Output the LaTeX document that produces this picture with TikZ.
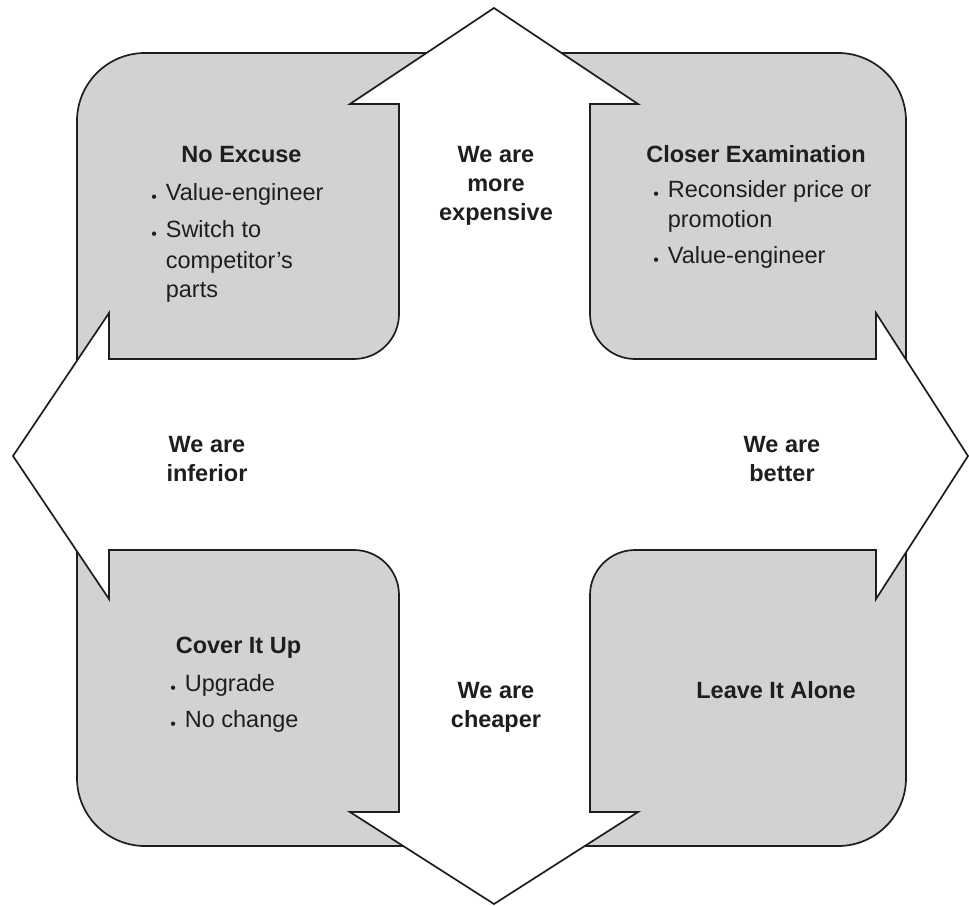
\documentclass[tikz,border=0pt]{standalone}
\usepackage{fontspec}
\setmainfont{Liberation Sans}
\definecolor{boxgray}{RGB}{209,210,212}
\definecolor{inkc}{RGB}{30,30,30}
\newcommand{\bul}{\llap{\raisebox{-2.2pt}{\fontsize{16}{16}\selectfont •}\hspace{9pt}}}
\begin{document}
\begin{tikzpicture}[x=1pt,y=-1pt,line width=1.7pt,
  txt/.style={anchor=base,inner sep=0pt,text=inkc,font=\fontsize{23.5}{28}\selectfont},
  hd/.style={anchor=base,inner sep=0pt,text=inkc,font=\bfseries\fontsize{23.5}{28}\selectfont},
  li/.style={txt,anchor=base west}]
\useasboundingbox (0,0) rectangle (969,905);
\fill[white] (0,0) rectangle (969,905);
\draw[draw=inkc,fill=boxgray,rounded corners=68pt] (77,53) rectangle (906,846);
\draw[draw=inkc,fill=white,line join=miter]
 (494,8) -- (638,104) -- (590,104) -- (590,314) .. controls (590,338.8) and (610.2,359) .. (635,359)
 -- (876,359) -- (876,313) -- (968,456) -- (876,599) -- (876,550) -- (635,550) .. controls (610.2,550) and (590,570.2) .. (590,595)
 -- (590,812) -- (638,812) -- (494,904) -- (350,812) -- (399,812) -- (399,595) .. controls (399,570.2) and (378.8,550) .. (354,550)
 -- (109,550) -- (109,599) -- (13,456) -- (109,313) -- (109,359) -- (354,359) .. controls (378.8,359) and (399,338.8) .. (399,314)
 -- (399,104) -- (350,104) -- cycle;
% top-left
\node[hd] (ne) at (241.5,162) {No Excuse};
\node[li] (ne1) at (165,200) {\bul Value-engineer};
\node[li] (ne2) at (165,237) {\bul Switch to};
\node[li] (ne3) at (165,268) {competitor’s};
\node[li] (ne4) at (165,297) {parts};
% top-right
\node[hd] (ce) at (756,162) {Closer Examination};
\node[li] (ce1) at (667,197) {\bul Reconsider price or};
\node[li] (ce2) at (667,227) {promotion};
\node[li] (ce3) at (667,263) {\bul Value-engineer};
% bottom-left
\node[hd] (cu) at (238.5,653) {Cover It Up};
\node[li] (cu1) at (184,691) {\bul Upgrade};
\node[li] (cu2) at (184,727) {\bul No change};
% bottom-right
\node[hd] (la) at (776,698) {Leave It Alone};
% arrow labels
\node[hd] (ex1) at (496,162) {We are};
\node[hd] (ex2) at (496,191) {more};
\node[hd] (ex3) at (496,220) {expensive};
\node[hd] (in1) at (207,452) {We are};
\node[hd] (in2) at (207,481) {inferior};
\node[hd] (be1) at (782,452) {We are};
\node[hd] (be2) at (782,481) {better};
\node[hd] (ch1) at (496,698) {We are};
\node[hd] (ch2) at (496,727) {cheaper};
\end{tikzpicture}
\end{document}
